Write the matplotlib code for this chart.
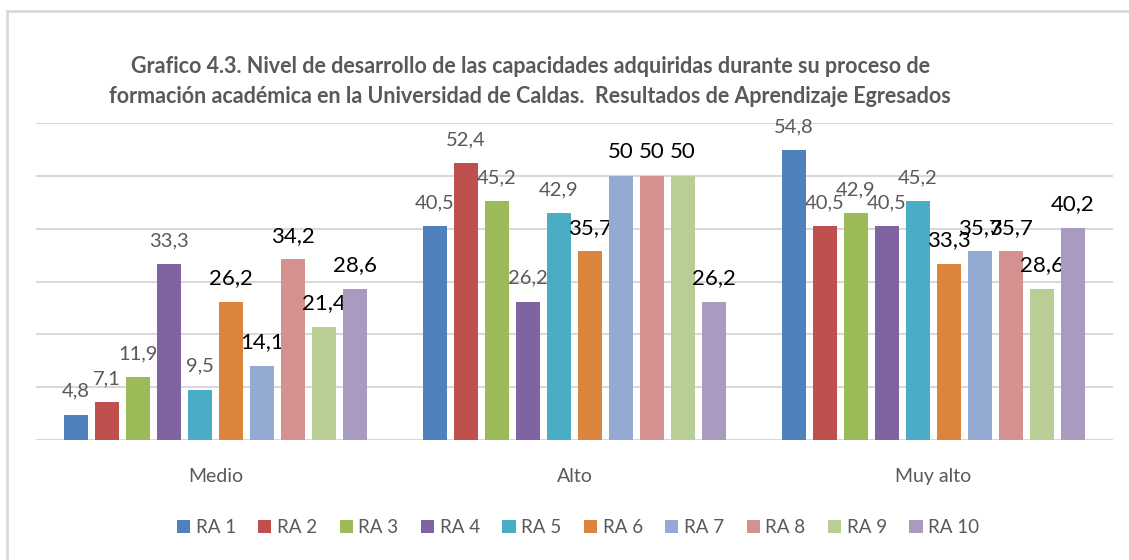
import numpy as np
import matplotlib
matplotlib.use('Agg')
import matplotlib.pyplot as plt
from matplotlib.lines import Line2D

plt.rcParams['font.family'] = ['Lato', 'DejaVu Sans']

categorias = ['Medio', 'Alto', 'Muy alto']
series = ['RA 1', 'RA 2', 'RA 3', 'RA 4', 'RA 5', 'RA 6', 'RA 7', 'RA 8', 'RA 9', 'RA 10']
medio = [4.8, 7.1, 11.9, 33.3, 9.5, 26.2, 14.1, 34.2, 21.4, 28.6]
alto = [40.5, 52.4, 45.2, 26.2, 42.9, 35.7, 50, 50, 50, 26.2]
muy_alto = [54.8, 40.5, 42.9, 40.5, 45.2, 33.3, 35.7, 35.7, 28.6, 40.2]
colores = ['#4F81BD', '#C0504D', '#9BBB59', '#8064A2', '#4BACC6',
           '#DB843D', '#95AAD2', '#D39190', '#B9CE95', '#A99BC0']

valores = np.array([medio, alto, muy_alto])

fig = plt.figure(figsize=(11.29, 5.6), dpi=100)
ax = fig.add_axes([36 / 1129, 1 - 440 / 560, 1077 / 1129, 317 / 560])

x = np.arange(len(categorias))
paso = 31 / 359
ancho = 24 / 359
for i, s in enumerate(series):
    pos = x + (i - 4.5) * paso
    ax.bar(pos, valores[:, i], width=ancho, color=colores[i], label=s, zorder=3)
    for p, v in zip(pos, valores[:, i]):
        txt = f"{v:g}".replace('.', ',')
        if i < 5:
            ax.annotate(txt, (p, v), xytext=(0, 17), textcoords='offset points',
                        ha='center', va='center', fontsize=14.5, color='#595959')
        else:
            ax.annotate(txt, (p, v), xytext=(0, 17), textcoords='offset points',
                        ha='center', va='center', fontsize=16, color='black')

ax.set_ylim(0, 60)
ax.set_xlim(-0.5, 2.5)
ax.set_yticks(range(0, 61, 10))
ax.yaxis.grid(True, color='#D9D9D9', lw=1.5)
ax.set_axisbelow(True)
for sp in ax.spines.values():
    sp.set_visible(False)
ax.tick_params(axis='y', left=False, labelleft=False)
ax.set_xticks(x, categorias)
ax.tick_params(axis='x', length=0, pad=20, labelsize=14, labelcolor='#595959')

fig.text(0.4695, 0.854,
         'Grafico 4.3. Nivel de desarrollo de las capacidades adquiridas durante su proceso de\n'
         'formación académica en la Universidad de Caldas.  Resultados de Aprendizaje Egresados',
         ha='center', va='center', fontsize=15.5, fontweight='bold', color='#595959',
         linespacing=1.55)

fig.legend(loc='center', bbox_to_anchor=(0.512, 0.058), ncol=10, frameon=False,
           handlelength=0.7, handleheight=0.7, handletextpad=0.3, columnspacing=1.2,
           labelcolor='#595959', fontsize=13.5)

fig.add_artist(Line2D([7 / 1129, 7 / 1129], [0, 1 - 11 / 560], color='#D9D9D9', lw=2))
fig.add_artist(Line2D([7 / 1129, 1], [1 - 11 / 560, 1 - 11 / 560], color='#D9D9D9', lw=2))

fig.savefig('out.png', dpi=100)
